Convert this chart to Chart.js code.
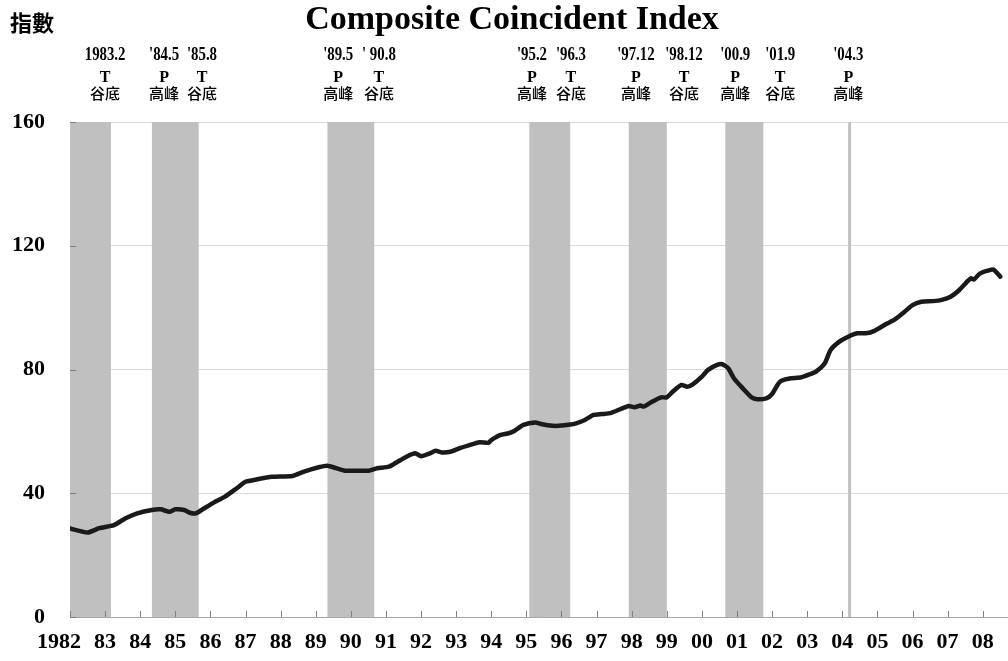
<!DOCTYPE html>
<html>
<head>
<meta charset="utf-8">
<script src="https://cdn.jsdelivr.net/npm/chart.js@4.4.0/dist/chart.umd.min.js"></script>
<style>
  html, body { margin: 0; padding: 0; background: #fff; }
  #wrap { width: 1008px; height: 661px; }
</style>
</head>
<body>
<div id="wrap"><canvas id="chart"></canvas></div>
<script>
// Composite Coincident Index (year.month -> index)
const dates = [
  '1982.01', '1982.07', '1982.11', '1983.04', '1983.08', '1983.12',
  '1984.05', '1984.08', '1984.11', '1985.01', '1985.04', '1985.06', '1985.08', '1985.10',
  '1986.02', '1986.06', '1986.10', '1987.01', '1987.05', '1987.10', '1988.05', '1988.09',
  '1989.02', '1989.05', '1989.08', '1989.11', '1990.03', '1990.07', '1990.10',
  '1991.02', '1991.05', '1991.08', '1991.11', '1992.01', '1992.04', '1992.06', '1992.08', '1992.11',
  '1993.02', '1993.05', '1993.09', '1993.12', '1994.01', '1994.04', '1994.07', '1994.09', '1994.12',
  '1995.04', '1995.06', '1995.10', '1995.12', '1996.04', '1996.06', '1996.09', '1996.12',
  '1997.03', '1997.06', '1997.10', '1997.12', '1998.02', '1998.04', '1998.05', '1998.08', '1998.11',
  '1999.01', '1999.03', '1999.06', '1999.08', '1999.10', '2000.01', '2000.03', '2000.06', '2000.08',
  '2000.10', '2000.12', '2001.03', '2001.06', '2001.08', '2001.11', '2002.01', '2002.03', '2002.04',
  '2002.07', '2002.11', '2003.02', '2003.04', '2003.07', '2003.09', '2003.12', '2004.03', '2004.06',
  '2004.09', '2004.12', '2005.04', '2005.07', '2005.10', '2006.01', '2006.04', '2006.08', '2006.11',
  '2007.02', '2007.05', '2007.08', '2007.09', '2007.10', '2007.12', '2008.04', '2008.05', '2008.07'
];
const values = [
  28.6, 27.3, 28.7, 29.7, 31.9, 33.5,
  34.6, 34.8, 34.0, 34.8, 34.6, 33.7, 33.5, 34.6,
  36.9, 38.9, 41.6, 43.7, 44.5, 45.3, 45.6, 47.0,
  48.4, 48.9, 48.1, 47.3, 47.3, 47.3, 48.1,
  48.6, 50.2, 51.8, 52.9, 52.0, 52.9, 53.7, 53.2, 53.4,
  54.5, 55.4, 56.5, 56.3, 57.2, 58.8, 59.4, 60.2, 62.1,
  62.9, 62.4, 61.8, 61.8, 62.2, 62.6, 63.7, 65.3,
  65.6, 66.0, 67.5, 68.2, 67.8, 68.4, 68.0, 69.6, 71.0,
  71.0, 72.8, 75.0, 74.4, 75.3, 77.7, 79.8, 81.4, 81.7,
  80.4, 77.1, 73.9, 71.0, 70.4, 70.7, 72.1, 75.2, 76.3,
  77.1, 77.5, 78.5, 79.3, 82.0, 86.3, 89.0, 90.6, 91.7,
  91.7, 92.5, 94.7, 96.2, 98.4, 100.8, 101.9, 102.1, 102.5,
  103.5, 105.7, 108.7, 109.5, 109.1, 111.0, 112.3, 112.1, 110.0
];

// axis ticks
const yearTicks = [1982, 1983, 1984, 1985, 1986, 1987, 1988, 1989, 1990, 1991, 1992, 1993, 1994,
  1995, 1996, 1997, 1998, 1999, 2000, 2001, 2002, 2003, 2004, 2005, 2006, 2007, 2008];
const yearLabels = ['1982', '83', '84', '85', '86', '87', '88', '89', '90', '91', '92', '93', '94',
  '95', '96', '97', '98', '99', '00', '01', '02', '03', '04', '05', '06', '07', '08'];
const yTicks = [0, 40, 80, 120, 160];

// shaded contraction periods (peak month .. trough month)
const bandFrom = ['1982.01', '1984.05', '1989.05', '1995.02', '1997.12', '2000.09', '2004.03'];
const bandTo   = ['1983.02', '1985.08', '1990.08', '1996.03', '1998.12', '2001.09', '2004.03'];

// turning point labels above the plot
const turnText = ['1983.2', "'84.5", "'85.8", "'89.5", "' 90.8", "'95.2", "'96.3", "'97.12", "'98.12", "'00.9", "'01.9", "'04.3"];
const turnType = ['T', 'P', 'T', 'P', 'T', 'P', 'T', 'P', 'T', 'P', 'T', 'P'];
const turnName = ['谷底', '高峰', '谷底', '高峰', '谷底', '高峰', '谷底', '高峰', '谷底', '高峰', '谷底', '高峰'];
const turnAt   = [1983.0, 1984.68, 1985.76, 1989.64, 1990.8, 1995.16, 1996.27, 1998.12, 1999.49, 2000.95, 2002.23, 2004.17];

function toYear(s) {
  const [y, m] = s.split('.').map(Number);
  return y + (m - 1) / 12;
}

const points = dates.map((d, i) => ({ x: toYear(d), y: values[i] }));

const serif = "'Liberation Serif', 'Times New Roman', serif";
const cjk = "'Noto Sans CJK TC', 'Noto Sans CJK SC', sans-serif";

const decorations = {
    id: 'decorations',
    beforeDatasetsDraw(chart) {
        const { ctx, chartArea: a, scales: { x, y } } = chart;
        ctx.save();
        ctx.fillStyle = '#c0c0c0';
        bandFrom.forEach((f, i) => {
            const x0 = x.getPixelForValue(toYear(f));
            const x1 = x.getPixelForValue(toYear(bandTo[i]) + 1 / 12);
            ctx.fillRect(x0, a.top, x1 - x0, a.bottom - a.top);
        });
        // small inside tick marks
        ctx.strokeStyle = '#808080';
        ctx.lineWidth = 1;
        ctx.beginPath();
        yearTicks.forEach(v => {
            const px = Math.round(x.getPixelForValue(v)) + 0.5;
            ctx.moveTo(px, a.bottom);
            ctx.lineTo(px, a.bottom - 6);
        });
        yTicks.forEach(v => {
            const py = Math.round(y.getPixelForValue(v)) + 0.5;
            ctx.moveTo(a.left, py);
            ctx.lineTo(a.left + 6, py);
        });
        ctx.stroke();
        ctx.restore();
    },
    afterDraw(chart) {
        const { ctx, scales: { x } } = chart;
        ctx.save();
        ctx.fillStyle = '#000';
        ctx.textAlign = 'center';
        ctx.textBaseline = 'alphabetic';
        ctx.font = `bold 34px ${serif}`;
        ctx.fillText('Composite Coincident Index', 512, 29);

        ctx.textAlign = 'left';
        ctx.textBaseline = 'middle';
        ctx.font = `bold 22px ${cjk}`;
        ctx.fillText('指數', 10, 23);

        turnText.forEach((t, i) => {
            const px = x.getPixelForValue(turnAt[i]);
            ctx.textAlign = 'center';
            ctx.textBaseline = 'alphabetic';
            // date labels are narrow in the original
            ctx.save();
            ctx.translate(px, 60);
            ctx.scale(0.78, 1);
            ctx.font = `bold 19px ${serif}`;
            ctx.fillText(t, 0, 0);
            ctx.restore();
            ctx.font = `bold 16px ${serif}`;
            ctx.fillText(turnType[i], px, 82);
            ctx.textBaseline = 'middle';
            ctx.font = `500 15px ${cjk}`;
            ctx.fillText(turnName[i], px, 93);
        });
        ctx.restore();
    }
};

new Chart(document.getElementById('chart'), {
    type: 'line',
    data: {
        datasets: [{
            data: points,
            borderColor: '#1a1a1a',
            borderWidth: 4.5,
            borderJoinStyle: 'round',
            borderCapStyle: 'round',
            pointRadius: 0,
            tension: 0.2,
            fill: false
        }]
    },
    options: {
        responsive: true,
        maintainAspectRatio: false,
        devicePixelRatio: 1,
        animation: false,
        layout: { padding: { top: 122, left: 12, right: 0, bottom: 0 } },
        plugins: {
            legend: { display: false },
            tooltip: { enabled: false },
            title: { display: false }
        },
        scales: {
            x: {
                type: 'linear',
                min: 1982,
                max: 2008.72,
                afterBuildTicks: (scale) => { scale.ticks = yearTicks.map(v => ({ value: v })); },
                afterFit: (scale) => { scale.paddingLeft = 0; scale.paddingRight = 0; scale.height = 44; },
                ticks: {
                    autoSkip: false,
                    maxRotation: 0,
                    padding: 12,
                    color: '#000',
                    font: { family: serif, size: 22, weight: 'bold' },
                    callback: (v) => {
                        const i = yearTicks.indexOf(v);
                        return i === 0 ? yearLabels[i] + '\u2003' : yearLabels[i];
                    }
                },
                grid: { display: false, drawTicks: false },
                border: { display: true, color: '#a6a6a6', width: 1 }
            },
            y: {
                min: 0,
                max: 160,
                afterBuildTicks: (scale) => { scale.ticks = yTicks.map(v => ({ value: v })); },
                afterFit: (scale) => { scale.paddingTop = 0; scale.paddingBottom = 0; scale.width = 58; },
                ticks: {
                    padding: 25,
                    color: '#000',
                    font: { family: serif, size: 22, weight: 'bold' }
                },
                grid: { color: '#d9d9d9', lineWidth: 1, drawTicks: false },
                border: { display: true, color: '#a6a6a6', width: 1 }
            }
        }
    },
    plugins: [decorations]
});
</script>
</body>
</html>
